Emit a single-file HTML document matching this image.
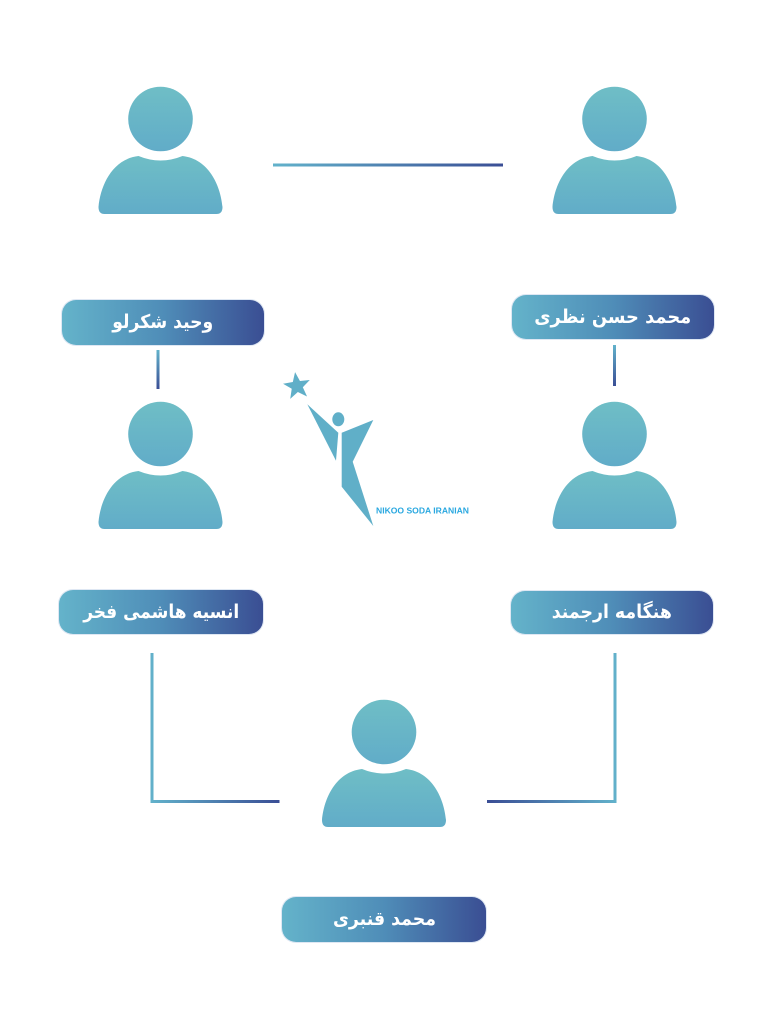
<!DOCTYPE html>
<html>
<head>
<meta charset="utf-8">
<style>
  html,body{margin:0;padding:0;background:#fff;}
  body{width:768px;height:1024px;position:relative;overflow:hidden;}
  svg{position:absolute;left:0;top:0;}
  .lbl{position:absolute;border-radius:14px;background:linear-gradient(to right,#64b3ca 0%,#4f8db8 50%,#3a4e93 100%);
       box-shadow:0 0 0 1px rgba(200,215,235,0.6);display:flex;align-items:center;justify-content:center;}
  .lbl span{display:inline-block;color:#fff;font-family:"DejaVu Sans","Liberation Sans",sans-serif;font-weight:bold;font-size:19px;direction:rtl;white-space:nowrap;line-height:1;}
</style>
</head>
<body>
<svg width="768" height="1024" viewBox="0 0 768 1024" xmlns="http://www.w3.org/2000/svg">
  <defs>
    <linearGradient id="pg" x1="0" y1="0" x2="0" y2="1">
      <stop offset="0" stop-color="#6fbec6"/>
      <stop offset="1" stop-color="#61acc8"/>
    </linearGradient>
    <linearGradient id="hlr" x1="0" y1="0" x2="1" y2="0">
      <stop offset="0" stop-color="#62b2cb"/>
      <stop offset="1" stop-color="#3a4e95"/>
    </linearGradient>
    <linearGradient id="hrl" x1="0" y1="0" x2="1" y2="0">
      <stop offset="0" stop-color="#3a4e95"/>
      <stop offset="1" stop-color="#62b2cb"/>
    </linearGradient>
    <linearGradient id="vtb" x1="0" y1="0" x2="0" y2="1">
      <stop offset="0" stop-color="#62b2cb"/>
      <stop offset="1" stop-color="#3a4e95"/>
    </linearGradient>
    <g id="person">
      <circle cx="0" cy="0" r="32.3"/>
      <path d="M-22,37 C-48,40 -60,66 -62,88 Q-62,95 -56,95 L56,95 Q62,95 62,88 C60,66 48,40 22,37 Q0,46 -22,37 Z"/>
    </g>
  </defs>

  <!-- persons -->
  <g fill="url(#pg)">
    <use href="#person" x="160.5" y="119"/>
    <use href="#person" x="614.5" y="119"/>
    <use href="#person" x="160.5" y="434"/>
    <use href="#person" x="614.5" y="434"/>
    <use href="#person" x="384" y="732"/>
  </g>

  <!-- connectors -->
  <rect x="273" y="163.5" width="230" height="3" fill="url(#hlr)"/>
  <rect x="156.5" y="350" width="3" height="39" fill="url(#vtb)"/>
  <rect x="613" y="345" width="3" height="41" fill="url(#vtb)"/>

  <rect x="150.5" y="653" width="3" height="150" fill="#62b0ca"/>
  <rect x="150.5" y="800" width="129" height="3" fill="url(#hlr)"/>

  <rect x="613.5" y="653" width="3" height="150" fill="#62b0ca"/>
  <rect x="487" y="800" width="129.5" height="3" fill="url(#hrl)"/>

  <!-- logo -->
  <g fill="#60afc8">
    <polygon points="297,372 300.6,381.5 310.5,381.8 302.6,388 305.5,397.8 297,392 288.5,397.8 291.4,388 283.5,381.8 293.4,381.5" transform="rotate(-8 297 386)"/>
    <ellipse cx="338.3" cy="419.3" rx="6" ry="7"/>
    <polygon points="307.3,404.3 338.3,432.7 336,460.7"/>
    <polygon points="341.7,432.7 373.3,420 352.7,461.7 373.3,526 341.7,486.7"/>
  </g>
  <text x="376" y="513.5" font-family="Liberation Sans, sans-serif" font-size="8.3" font-weight="bold" fill="#2aa8e0" textLength="93" lengthAdjust="spacingAndGlyphs">NIKOO SODA IRANIAN</text>
</svg>

<div class="lbl" style="left:62px;top:300px;width:202px;height:45px;"><span data-w="101">وحید شکرلو</span></div>
<div class="lbl" style="left:512px;top:295px;width:202px;height:44px;"><span data-w="157">محمد حسن نظری</span></div>
<div class="lbl" style="left:59px;top:590px;width:204px;height:44px;"><span data-w="156">انسیه هاشمی فخر</span></div>
<div class="lbl" style="left:511px;top:591px;width:202px;height:43px;"><span data-w="120">هنگامه ارجمند</span></div>
<div class="lbl" style="left:282px;top:897px;width:204px;height:45px;"><span data-w="103">محمد قنبری</span></div>

<script>
  document.querySelectorAll('.lbl span').forEach(function(s){
    var target = parseFloat(s.getAttribute('data-w'));
    var w = s.getBoundingClientRect().width;
    if (w > 0 && target) {
      var k = target / w;
      if (k > 0.6 && k < 1.6) s.style.transform = 'scaleX(' + k.toFixed(3) + ')';
    }
  });
</script>
</body>
</html>
